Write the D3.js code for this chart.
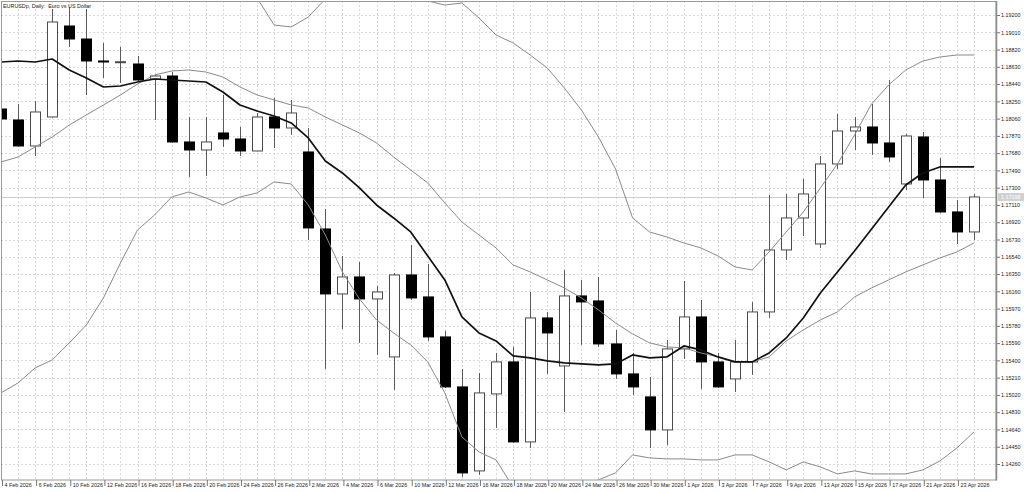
<!DOCTYPE html>
<html><head><meta charset="utf-8">
<script src="https://cdn.jsdelivr.net/npm/d3@7"></script>
<style>html,body{margin:0;padding:0;background:#fff;overflow:hidden}svg{display:block}</style>
</head><body>
<svg id="c" width="1024" height="492"></svg>
<script>
const title = "EURUSDp, Daily:  Euro vs US Dollar";
const dates = ["4 Feb 2026","5 Feb 2026","6 Feb 2026","9 Feb 2026","10 Feb 2026","11 Feb 2026","12 Feb 2026","13 Feb 2026","16 Feb 2026","17 Feb 2026","18 Feb 2026","19 Feb 2026","20 Feb 2026","23 Feb 2026","24 Feb 2026","25 Feb 2026","26 Feb 2026","27 Feb 2026",
"2 Mar 2026","3 Mar 2026","4 Mar 2026","5 Mar 2026","6 Mar 2026","9 Mar 2026","10 Mar 2026","11 Mar 2026","12 Mar 2026","13 Mar 2026","16 Mar 2026","17 Mar 2026","18 Mar 2026","19 Mar 2026","20 Mar 2026","23 Mar 2026","24 Mar 2026","25 Mar 2026","26 Mar 2026","27 Mar 2026","30 Mar 2026","31 Mar 2026",
"1 Apr 2026","2 Apr 2026","3 Apr 2026","6 Apr 2026","7 Apr 2026","8 Apr 2026","9 Apr 2026","10 Apr 2026","13 Apr 2026","14 Apr 2026","15 Apr 2026","16 Apr 2026","17 Apr 2026","20 Apr 2026","21 Apr 2026","22 Apr 2026","23 Apr 2026","24 Apr 2026"];
const opens  = [1.18166,1.18045,1.17759,1.18078,1.19079,1.18936,1.18694,1.18680,1.18661,1.18496,1.18529,1.17803,1.17715,1.17902,1.17836,1.17704,1.18078,1.17957,
1.17693,1.16846,1.16131,1.16318,1.16076,1.15438,1.16340,1.16098,1.15658,1.15108,1.14184,1.15031,1.15383,1.14503,1.15867,1.15339,1.16109,1.16054,1.15581,1.15251,1.14998,1.14635,
1.15526,1.15878,1.15383,1.15196,1.15383,1.15933,1.16615,1.16967,1.16681,1.17561,1.17924,1.17968,1.17792,1.17341,1.17858,1.17385,1.17033,1.16813];
const highs  = [1.18199,1.18221,1.18254,1.19266,1.19288,1.19266,1.18892,1.18848,1.18749,1.18540,1.18573,1.18078,1.18078,1.18320,1.17968,1.18122,1.18287,1.18265,
1.17957,1.17066,1.16549,1.16483,1.16219,1.16362,1.16670,1.16461,1.15724,1.15306,1.15262,1.15482,1.15548,1.16153,1.15933,1.16395,1.16285,1.16318,1.15735,1.15482,1.15218,1.15625,
1.16274,1.16065,1.15482,1.15625,1.16043,1.17220,1.17231,1.17396,1.17649,1.18111,1.18078,1.18221,1.18485,1.17891,1.17913,1.17627,1.17165,1.17231];
const lows   = [1.18034,1.17748,1.17649,1.18070,1.18848,1.18320,1.18507,1.18452,1.18463,1.18045,1.17792,1.17418,1.17429,1.17748,1.17649,1.17700,1.17737,1.17880,
1.16725,1.15306,1.15746,1.15592,1.15460,1.15075,1.16065,1.15614,1.15097,1.14118,1.14140,1.14657,1.14492,1.14437,1.15251,1.14833,1.15570,1.15548,1.15196,1.15020,1.14437,1.14470,
1.15416,1.15086,1.15097,1.15053,1.15240,1.15867,1.16505,1.16769,1.16637,1.17506,1.17715,1.17660,1.17583,1.17275,1.17187,1.17022,1.16681,1.16725];
const closes = [1.18056,1.17759,1.18133,1.19123,1.18936,1.18694,1.18683,1.18686,1.18485,1.18529,1.17803,1.17715,1.17803,1.17836,1.17704,1.18078,1.17957,1.18122,
1.16857,1.16131,1.16318,1.16076,1.16153,1.16340,1.16087,1.15658,1.15108,1.14162,1.15042,1.15383,1.14503,1.15867,1.15702,1.16109,1.16043,1.15581,1.15251,1.15108,1.14635,1.15526,
1.15878,1.15383,1.15108,1.15383,1.15933,1.16615,1.16967,1.17231,1.17561,1.17924,1.17968,1.17792,1.17638,1.17869,1.17385,1.17033,1.16813,1.17198];
const maLine = [1.18683,1.18694,1.18683,1.18716,1.18595,1.18507,1.18408,1.18419,1.18463,1.18496,1.18485,1.18474,1.18463,1.18353,1.18210,1.18144,1.18089,1.18012,
1.17847,1.17594,1.17462,1.17297,1.17110,1.16967,1.16813,1.16549,1.16285,1.15878,1.15702,1.15614,1.15449,1.15427,1.15394,1.15372,1.15361,1.15350,1.15361,1.15460,1.15427,1.15438,
1.15559,1.15515,1.15438,1.15383,1.15383,1.15482,1.15647,1.15867,1.16142,1.16373,1.16604,1.16846,1.17088,1.17330,1.17462,1.17528,1.17528,1.17528];
const bbMiddle = [1.17583,1.17638,1.17748,1.17858,1.17990,1.18100,1.18210,1.18320,1.18441,1.18540,1.18584,1.18595,1.18573,1.18518,1.18408,1.18320,1.18265,1.18210,
1.18177,1.18078,1.17990,1.17902,1.17792,1.17638,1.17495,1.17352,1.17132,1.16923,1.16780,1.16637,1.16450,1.16373,1.16285,1.16197,1.16087,1.15955,1.15812,1.15691,1.15592,1.15548,
1.15537,1.15482,1.15438,1.15383,1.15383,1.15438,1.15614,1.15735,1.15845,1.15933,1.16098,1.16197,1.16285,1.16373,1.16450,1.16527,1.16593,1.16692];
const bbUpper = [1.20124,1.20124,1.20179,1.20311,1.20388,1.20410,1.20333,1.20168,1.20047,1.20080,1.19970,1.19937,1.19959,1.19926,1.19618,1.19387,1.19090,1.19068,
1.19178,1.19376,1.19607,1.19728,1.19739,1.19574,1.19420,1.19354,1.19310,1.19332,1.19167,1.18980,1.18892,1.18760,1.18617,1.18397,1.18155,1.17858,1.17506,1.16967,1.16813,1.16758,
1.16692,1.16637,1.16549,1.16428,1.16395,1.16593,1.16813,1.17033,1.17297,1.17561,1.17880,1.18221,1.18430,1.18595,1.18694,1.18738,1.18760,1.18760];
const bbLower = [1.15042,1.15152,1.15317,1.15405,1.15592,1.15790,1.16087,1.16472,1.16835,1.17000,1.17198,1.17253,1.17187,1.17110,1.17198,1.17242,1.17363,1.17341,
1.17110,1.16780,1.16373,1.16076,1.15845,1.15702,1.15570,1.15383,1.15042,1.14558,1.14393,1.14305,1.14008,1.13986,1.13953,1.13986,1.14019,1.14085,1.14162,1.14360,1.14327,1.14316,
1.14316,1.14305,1.14305,1.14360,1.14360,1.14283,1.14195,1.14283,1.14228,1.14151,1.14184,1.14151,1.14151,1.14151,1.14195,1.14294,1.14437,1.14613];
const priceTicks = [1.19200,1.19010,1.18820,1.18630,1.18440,1.18250,1.18060,1.17870,1.17680,1.17490,1.17300,1.17110,1.16920,1.16730,1.16540,1.16350,1.16160,1.15970,1.15780,1.15590,1.15400,1.15210,1.15020,1.14830,1.14640,1.14450,1.14260];
const dateTicks = ["4 Feb 2026","6 Feb 2026","10 Feb 2026","12 Feb 2026","16 Feb 2026","18 Feb 2026","20 Feb 2026","24 Feb 2026","26 Feb 2026","2 Mar 2026","4 Mar 2026","6 Mar 2026","10 Mar 2026","12 Mar 2026","16 Mar 2026","18 Mar 2026","20 Mar 2026","24 Mar 2026","26 Mar 2026","30 Mar 2026","1 Apr 2026","3 Apr 2026","7 Apr 2026","9 Apr 2026","13 Apr 2026","15 Apr 2026","17 Apr 2026","21 Apr 2026","23 Apr 2026"];
const bidPrice = 1.17198;

const P = {l:1, t:1, r:996, b:480};
const FONT = "'Liberation Sans', Arial, sans-serif";
const svg = d3.select('#c');
const x = d3.scalePoint().domain(dates).range([1, 974]);
const y = d3.scaleLinear().domain([1.14260, 1.19200]).range([464, 15]);
const px = v => Math.round(v) + 0.5;

svg.append('defs').append('clipPath').attr('id','clip')
  .append('rect').attr('x',P.l).attr('y',P.t).attr('width',P.r-P.l).attr('height',P.b-P.t);

const grid = svg.append('g').attr('clip-path','url(#clip)')
  .attr('stroke','#dadada').attr('stroke-dasharray','2,2').attr('stroke-width',1);
grid.selectAll('line.h').data(priceTicks).join('line').attr('class','h')
  .attr('x1',P.l).attr('x2',P.r).attr('y1',d=>px(y(d))).attr('y2',d=>px(y(d)));
grid.selectAll('line.v').data(dates).join('line').attr('class','v')
  .attr('y1',P.t).attr('y2',P.b).attr('x1',d=>px(x(d))).attr('x2',d=>px(x(d)));

const plot = svg.append('g').attr('clip-path','url(#clip)');
plot.append('line').attr('x1',P.l).attr('x2',P.r)
  .attr('y1',px(y(bidPrice))).attr('y2',px(y(bidPrice)))
  .attr('stroke','#cccccc').attr('stroke-width',1);

const bars = dates.map((d,i)=>({d, o:opens[i], h:highs[i], l:lows[i], c:closes[i]}));
plot.selectAll('line.wick').data(bars).join('line').attr('class','wick')
  .attr('x1',d=>px(x(d.d))).attr('x2',d=>px(x(d.d)))
  .attr('y1',d=>y(d.h)).attr('y2',d=>y(d.l))
  .attr('stroke','#5a5a5a').attr('stroke-width',1);
plot.selectAll('rect.body').data(bars).join('rect').attr('class','body')
  .attr('x',d=>Math.round(x(d.d))-4.5).attr('width',10)
  .attr('y',d=>y(Math.max(d.o,d.c)))
  .attr('height',d=>Math.max(1, y(Math.min(d.o,d.c))-y(Math.max(d.o,d.c))))
  .attr('fill',d=>d.c>=d.o?'#ffffff':'#000000')
  .attr('stroke',d=>d.c>=d.o?'#4a4a4a':'#000000').attr('stroke-width',1);

const lineGen = d3.line().x((v,i)=>x(dates[i])).y(v=>y(v));
[bbUpper, bbMiddle, bbLower].forEach(s=>{
  plot.append('path').datum(s).attr('d',lineGen)
    .attr('fill','none').attr('stroke','#8a8a8a').attr('stroke-width',1);
});
plot.append('path').datum(maLine).attr('d',lineGen)
  .attr('fill','none').attr('stroke','#111').attr('stroke-width',1.7).attr('stroke-linejoin','round');

// frame
svg.append('rect').attr('x',1.5).attr('y',1.5).attr('width',P.r-1.5).attr('height',P.b-1.5)
  .attr('fill','none').attr('stroke','#9a9a9a').attr('stroke-width',1);
svg.append('line').attr('x1',P.r+0.5).attr('x2',P.r+0.5).attr('y1',1).attr('y2',P.b+0.5)
  .attr('stroke','#8a8a8a').attr('stroke-width',1.5);

// right axis
const ay = svg.append('g').attr('transform',`translate(${P.r+1},0)`)
  .call(d3.axisRight(y).tickValues(priceTicks).tickFormat(d3.format('.5f')).tickSize(3).tickPadding(1));
ay.select('.domain').remove();
ay.selectAll('line').attr('stroke','#777');
ay.selectAll('text').attr('font-family',FONT).attr('font-size','5.4px').attr('fill','#222');

// bid label
const by = y(bidPrice);
svg.append('rect').attr('x',P.r+2).attr('y',by-4).attr('width',27).attr('height',8).attr('fill','#d0d0d0');
svg.append('text').attr('x',P.r+5).attr('y',by).attr('dy','0.35em')
  .attr('font-family',FONT).attr('font-size','5.4px').attr('fill','#ffffff').text(d3.format('.5f')(bidPrice));

// bottom axis
const ax = svg.append('g').attr('transform',`translate(1,${P.b})`)
  .call(d3.axisBottom(x).tickValues(dateTicks).tickSize(6).tickPadding(1));
ax.select('.domain').remove();
ax.selectAll('line').attr('stroke','#777');
ax.selectAll('text').attr('font-family',FONT).attr('font-size','5.4px').attr('fill','#222')
  .attr('text-anchor','start').attr('x',2).attr('y',3).attr('dy','0.71em');

// title
svg.append('text').attr('x',3).attr('y',8).attr('font-family',FONT).attr('font-size','5.4px')
  .attr('fill','#222').attr('xml:space','preserve').style('white-space','pre').text(title);
</script>
</body></html>
